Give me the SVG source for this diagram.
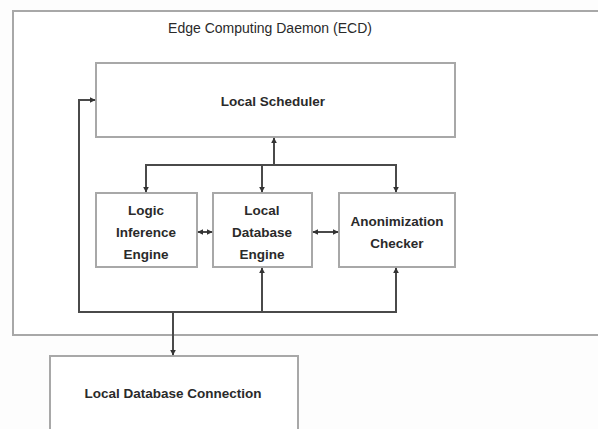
<svg xmlns="http://www.w3.org/2000/svg" width="598" height="429" viewBox="0 0 598 429">
  <style>
    .box { fill: #ffffff; stroke: #a8a8a8; stroke-width: 2; }
    .lbl { font-family: "Liberation Sans", Arial, sans-serif; font-size: 13.5px; fill: #2a2a2a; text-anchor: middle; }
    .title { font-size: 14px; }
    .bold { font-weight: bold; }
    .wire { fill: none; stroke: #4a4a4a; stroke-width: 2; }
  </style>
  <defs>
    <marker id="arrow" viewBox="0 0 10 10" refX="9" refY="5" markerWidth="3" markerHeight="3" orient="auto-start-reverse">
      <path d="M0,0 L10,5 L0,10 z" fill="#333333"/>
    </marker>
  </defs>
  <rect width="598" height="429" fill="#fdfdfd"/>

  <g id="ecd-container">
    <rect class="box" x="13" y="11" width="600" height="324"/>
    <text class="lbl title" x="270" y="33">Edge Computing Daemon (ECD)</text>
  </g>

  <g id="local-scheduler">
    <rect class="box" x="96" y="63" width="359" height="74"/>
    <text class="lbl bold" x="273" y="106">Local Scheduler</text>
  </g>

  <g id="logic-inference-engine">
    <rect class="box" x="96" y="193" width="101" height="74"/>
    <text class="lbl bold" x="146" y="215">Logic</text>
    <text class="lbl bold" x="146" y="237">Inference</text>
    <text class="lbl bold" x="146" y="259">Engine</text>
  </g>

  <g id="local-database-engine">
    <rect class="box" x="213" y="193" width="99" height="74"/>
    <text class="lbl bold" x="262" y="215">Local</text>
    <text class="lbl bold" x="262" y="237">Database</text>
    <text class="lbl bold" x="262" y="259">Engine</text>
  </g>

  <g id="anonimization-checker">
    <rect class="box" x="339" y="193" width="116" height="74"/>
    <text class="lbl bold" x="397" y="226">Anonimization</text>
    <text class="lbl bold" x="397" y="248">Checker</text>
  </g>

  <g id="local-database-connection">
    <rect class="box" x="50" y="356" width="248" height="80"/>
    <text class="lbl bold" x="173" y="398">Local Database Connection</text>
  </g>

  <g id="connectors">
    <!-- scheduler to the three engines -->
    <line class="wire" x1="274" y1="165" x2="274" y2="138" marker-end="url(#arrow)"/>
    <polyline class="wire" points="146,192 146,165 396,165 396,192" marker-start="url(#arrow)" marker-end="url(#arrow)"/>
    <line class="wire" x1="262" y1="165" x2="262" y2="192" marker-end="url(#arrow)"/>
    <!-- peer links between engines -->
    <line class="wire" x1="198" y1="232" x2="212" y2="232" marker-start="url(#arrow)" marker-end="url(#arrow)"/>
    <line class="wire" x1="313" y1="232" x2="338" y2="232" marker-start="url(#arrow)" marker-end="url(#arrow)"/>
    <!-- bottom bus -->
    <polyline class="wire" points="95,100 79,100 79,312 396,312 396,268" marker-start="url(#arrow)" marker-end="url(#arrow)"/>
    <line class="wire" x1="262" y1="312" x2="262" y2="268" marker-end="url(#arrow)"/>
    <line class="wire" x1="173" y1="312" x2="173" y2="355" marker-end="url(#arrow)"/>
  </g>
</svg>
